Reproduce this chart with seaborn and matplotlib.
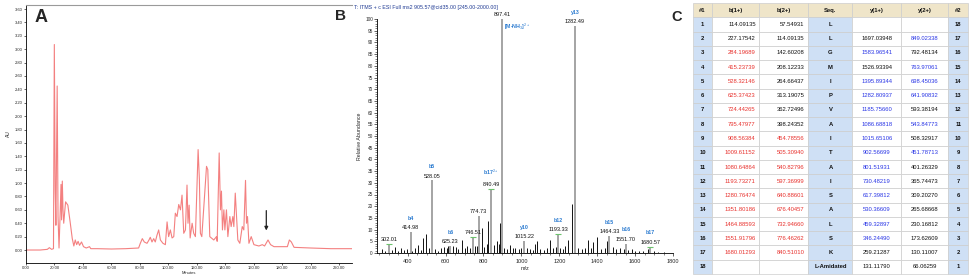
import numpy as np
import pandas as pd
import seaborn as sns
import matplotlib.pyplot as plt
from matplotlib.ticker import MultipleLocator, FormatStrFormatter

# ---- panel A: HPLC trace (minutes, AU) ----
rt_min = [0, 10, 15, 16.4, 18, 19.3, 19.9, 20.5, 21.0, 21.9, 22.5, 23.2, 24.0, 24.6, 25.0,
          25.5, 26.0, 26.5, 27.8, 29.4, 31.0, 32.5, 33.6, 34.6, 35.6, 36.6, 37.6, 39.0, 40.4,
          42.3, 44.6, 45.5, 50, 60, 70, 79.1, 80.3, 81.7, 83.1, 85, 86.4, 87.3, 88.5, 89.7,
          90.8, 92, 93.2, 94.4, 96.2, 97.9, 99.1, 100.2, 101.4, 102.6, 103.8, 104.9, 106.1,
          107.3, 108.5, 109.6, 110.8, 112, 113.1, 113.8, 114.6, 115.3, 116.7, 117.8, 119,
          120.9, 121.8, 122.5, 123.5, 125.4, 126.8, 127.7, 129.1, 131.9, 133.8, 134.3, 135.7,
          136.6, 137.3, 138, 139, 139.7, 140.8, 141.8, 143.2, 144.1, 145.3, 146, 147, 147.9,
          148.8, 150.2, 151.9, 153, 154.2, 154.9, 155.6, 156.6, 158.2, 160.1, 163.6, 166,
          167.6, 170, 171.8, 174.2, 183.6, 185, 186.4, 188.3, 200, 214, 229]
absorb = [0.0, 0.0, 0.01, 0.035, 0.01, 0.02, 3.07, 0.9, 0.37, 2.45, 0.5, 0.03, 0.55, 0.98, 0.45,
          1.03, 0.6, 0.4, 0.72, 0.67, 0.42, 0.17, 0.06, 0.15, 0.08, 0.13, 0.07, 0.12, 0.05,
          0.03, 0.05, 0.02, 0.02, 0.015, 0.02, 0.03, 0.1, 0.17, 0.12, 0.1, 0.15, 0.19, 0.12, 0.17,
          0.12, 0.22, 0.3, 0.15, 0.1, 0.08, 0.42, 0.2, 0.3, 0.18, 0.2, 0.55, 0.5,
          0.68, 0.6, 0.82, 0.25, 0.3, 0.97, 0.4, 0.67, 0.18, 0.4, 0.25, 0.2,
          1.5, 1.05, 0.25, 0.2, 0.8, 1.25, 1.2, 0.2, 0.15, 0.2, 0.13, 1.45,
          0.6, 0.88, 0.3, 0.6, 0.3, 0.6, 0.2, 0.5, 0.35, 0.5, 0.35, 0.85, 0.5,
          0.15, 0.1, 0.35, 0.3, 1.04, 0.4, 0.5, 0.1, 0.2, 0.08, 0.06, 0.08,
          0.06, 0.15, 0.08, 0.05, 0.05, 0.15, 0.12, 0.04, 0.03, 0.02, 0.02]
arrow_rt = 168.8

# ---- panel B: MS/MS spectrum ----
scan_title = "T: ITMS + c ESI Full ms2 905.57@cid35.00 [245.00-2000.00]"
lab_mz = [302.01, 414.98, 528.05, 625.23, 746.51, 774.73, 840.49, 897.41,
          1015.22, 1193.33, 1282.49, 1464.33, 1551.70, 1680.57]
lab_int = [4.0, 9.0, 31.0, 3.0, 7.0, 16.0, 27.5, 100, 5.0, 8.0, 97, 7.3, 4.0, 2.7]
lab_ion = ['', 'b4', 'b5', 'b6', '', '', r'b17$^{2+}$', r'[M-NH$_3$]$^{2+}$',
           'y10', 'b12', 'y13', 'b15', 'b16', 'b17']
other_mz = [263, 280, 318, 333, 350, 363, 380, 395, 425, 439, 456, 470, 483, 497, 510,
            545, 560, 575, 590, 605, 615, 640, 655, 668, 688, 700, 715, 730, 757, 764,
            794, 805, 817, 824, 855, 870, 880, 887, 910, 925, 940, 955, 966, 985, 1000,
            1028, 1045, 1060, 1072, 1081, 1100, 1120, 1135, 1151, 1165, 1180, 1204, 1218,
            1230, 1248, 1265, 1300, 1320, 1335, 1353, 1365, 1380, 1400, 1420, 1440, 1452,
            1486, 1500, 1521, 1540, 1565, 1582, 1600, 1620, 1644, 1670, 1700, 1720, 1750]
other_int = [1.5, 1.0, 1.2, 2.5, 1.0, 2.0, 1.2, 1.5, 1.0, 2.0, 3.5, 1.2, 6.5, 8.0, 2.0,
             1.5, 1.0, 2.0, 2.5, 2.0, 3.0, 3.0, 2.5, 1.5, 5.5, 2.0, 3.0, 2.0, 3.0, 3.0,
             10.5, 2.5, 4.0, 13.7, 3.5, 5.0, 4.0, 13.0, 2.0, 1.5, 3.5, 2.0, 2.0, 1.5, 2.0,
             2.0, 1.5, 1.2, 4.0, 5.0, 1.5, 1.2, 2.0, 5.5, 2.0, 2.5, 2.0, 1.5,
             3.0, 5.5, 21.0, 2.0, 1.5, 2.0, 5.5, 2.0, 4.7, 7.0, 1.5, 2.0, 5.0,
             2.5, 1.5, 2.0, 1.5, 1.2, 1.5, 1.0, 0.8, 1.0, 1.5, 0.8, 0.6, 0.5]
green_mz = [302.01, 746.51, 840.49, 1193.33, 1680.57]

# ---- panel C: fragment table ----
col_names = ['#1', 'b(1+)', 'b(2+)', 'Seq.', 'y(1+)', 'y(2+)', '#2']
seq = ['L', 'L', 'G', 'M', 'I', 'P', 'V', 'A', 'I', 'T', 'A', 'I', 'S', 'A', 'L', 'S', 'K',
       'L-Amidated']
b1 = ['114.09135', '227.17542', '284.19689', '415.23739', '528.32146', '625.37423',
      '724.44265', '795.47977', '908.56384', '1009.61152', '1080.64864', '1193.73271',
      '1280.76474', '1351.80186', '1464.88593', '1551.91796', '1680.01293', '']
b2 = ['57.54931', '114.09135', '142.60208', '208.12233', '264.66437', '313.19075',
      '362.72496', '398.24352', '454.78556', '505.30940', '540.82796', '597.36999',
      '640.88601', '676.40457', '732.94660', '776.46262', '840.51010', '']
y1 = ['', '1697.03948', '1583.96541', '1526.93394', '1395.89344', '1282.80937',
      '1185.75660', '1086.68818', '1015.65106', '902.56699', '801.51931', '730.48219',
      '617.39812', '530.36609', '459.32897', '346.24490', '259.21287', '131.11790']
y2 = ['', '849.02338', '792.48134', '763.97061', '698.45036', '641.90832', '593.38194',
      '543.84773', '508.32917', '451.78713', '401.26329', '365.74473', '309.20270',
      '265.68668', '230.16812', '173.62609', '130.11007', '66.06259']
b1_matched = list(range(3, 18))
b2_matched = list(range(9, 18))
y1_matched = [3] + list(range(5, 17))
y2_matched = [2, 4, 5, 6, 8, 10]

sns.set_style('white')
plt.rcParams['font.family'] = ['Liberation Sans', 'DejaVu Sans']
plt.rcParams['mathtext.fontset'] = 'custom'
plt.rcParams['mathtext.rm'] = 'Liberation Sans'

W, H = 970, 277
fig = plt.figure(figsize=(W / 100, H / 100), dpi=100)


def px_axes(l, t, r, b):
    return fig.add_axes([l / W, 1 - b / H, (r - l) / W, (b - t) / H])


# ---------------- A ----------------
ax_a = px_axes(26, 5, 352, 263)
trace = pd.DataFrame({'Minutes': rt_min, 'AU': absorb})
sns.lineplot(data=trace, x='Minutes', y='AU', ax=ax_a, color='#f26a6a', lw=0.8, alpha=0.85)
ax_a.set_xlim(0, 229)
ax_a.set_ylim(-0.194, 3.66)
ax_a.xaxis.set_major_locator(MultipleLocator(20))
ax_a.yaxis.set_major_locator(MultipleLocator(0.2))
ax_a.xaxis.set_major_formatter(FormatStrFormatter('%.2f'))
ax_a.yaxis.set_major_formatter(FormatStrFormatter('%.2f'))
ax_a.tick_params(axis='both', labelsize=3, length=1.5, width=0.5, pad=1, direction='out',
                 bottom=True, left=True)
ax_a.set_ylim(-0.194, 3.66)
ax_a.set_xlabel('Minutes', fontsize=3, labelpad=0.5)
ax_a.set_ylabel('AU', fontsize=3.5, labelpad=3)
for s in ['left', 'bottom']:
    ax_a.spines[s].set_color('black')
    ax_a.spines[s].set_linewidth(0.6)
ax_a.spines['top'].set_color('#9a9a9a')
ax_a.spines['top'].set_linewidth(0.8)
ax_a.spines['right'].set_visible(False)
ax_a.annotate('', xy=(arrow_rt, 0.25), xytext=(arrow_rt, 0.63),
              arrowprops=dict(arrowstyle='-|>', color='#222222', lw=0.9, mutation_scale=5))
fig.text(41 / W, 1 - 18 / H, 'A', fontsize=13, fontweight='bold', ha='center', va='center')

# ---------------- B ----------------
ax_b = px_axes(377, 19, 673, 253)
ax_b.vlines(other_mz, 0, other_int, color='#111111', lw=0.7)
ax_b.vlines(lab_mz, 0, lab_int, color='#8c8c8c', lw=1.1)
ax_b.axhline(0, color='black', lw=0.6)
ax_b.set_xlim(238, 1800)
ax_b.set_ylim(0, 100)
ax_b.xaxis.set_major_locator(MultipleLocator(200))
ax_b.xaxis.set_minor_locator(MultipleLocator(50))
ax_b.yaxis.set_major_locator(MultipleLocator(5))
ax_b.yaxis.set_minor_locator(MultipleLocator(1))
ax_b.tick_params(axis='x', which='major', labelsize=4, length=2.5, width=0.5, pad=1.5,
                 bottom=True)
ax_b.tick_params(axis='y', which='major', labelsize=3.4, length=2.5, width=0.5, pad=0.5,
                 left=True)
ax_b.tick_params(which='minor', length=1.3, width=0.4, bottom=True, left=True)
ax_b.set_xticks([t for t in range(400, 2000, 200)])
ax_b.set_xlim(238, 1800)
ax_b.set_xlabel('m/z', fontsize=4, labelpad=2)
ax_b.set_ylabel('Relative Abundance', fontsize=3.8, labelpad=2)
for s in ['left', 'bottom']:
    ax_b.spines[s].set_color('black')
    ax_b.spines[s].set_linewidth(0.6)
for s in ['top', 'right']:
    ax_b.spines[s].set_visible(False)

for mz, inten, ion in zip(lab_mz, lab_int, lab_ion):
    ax_b.text(mz, inten + 0.8, f'{mz:.2f}', ha='center', va='bottom', fontsize=4,
              color='#111111', clip_on=False)
    if not ion:
        continue
    if inten >= 99:
        ax_b.text(mz + 12, inten - 3.5, ion, ha='left', va='center', fontsize=3.8,
                  color='#2b7bd0', fontweight='bold', clip_on=False)
    else:
        ax_b.text(mz, inten + 4.8, ion, ha='center', va='bottom', fontsize=3.8,
                  color='#2b7bd0', fontweight='bold', clip_on=False)
green_int = [lab_int[lab_mz.index(m)] for m in green_mz]
ax_b.scatter(green_mz, green_int, marker='_', s=14, color='#6cc36c', lw=0.8, zorder=3)
fig.text(354 / W, 1 - 7 / H, scan_title, fontsize=3.8, color='#1f3a93', ha='left',
         va='center')
fig.text(341 / W, 1 - 16 / H, 'B', fontsize=11, fontweight='bold', ha='center', va='center')

# ---------------- C ----------------
ax_c = px_axes(693, 3, 968, 274)
ax_c.axis('off')
n_rows = len(seq)
rows = []
for i in range(n_rows):
    rows.append([str(i + 1), b1[i], b2[i], seq[i], y1[i], y2[i], str(n_rows - i)])
tab = ax_c.table(cellText=rows, colLabels=col_names, cellLoc='center',
                 colWidths=[19, 47.5, 49, 44, 48.5, 47.5, 19.5], bbox=[0, 0, 1, 1])
tab.auto_set_font_size(False)
tab.set_fontsize(4.2)
for (r, c), cell in tab.get_celld().items():
    cell.set_edgecolor('#cdcdcd')
    cell.set_linewidth(0.5)
    txt = cell.get_text()
    txt.set_color('#111111')
    if r == 0:
        cell.set_facecolor('#efe5c9')
        txt.set_fontweight('bold')
        continue
    if c in (0, 3, 6):
        cell.set_facecolor('#cfe0f5')
        txt.set_fontweight('bold')
    else:
        cell.set_facecolor('white')
    if c in (1, 2):
        cell._loc = 'right'
        cell.PAD = 0.08
        txt.set_horizontalalignment('right')
    if (c == 1 and r in b1_matched) or (c == 2 and r in b2_matched):
        txt.set_color('#e8322e')
    if (c == 4 and r in y1_matched) or (c == 5 and r in y2_matched):
        txt.set_color('#2a36e6')
fig.text(677 / W, 1 - 17 / H, 'C', fontsize=10.5, fontweight='bold', ha='center', va='center')

fig.savefig('out.png', dpi=100)
